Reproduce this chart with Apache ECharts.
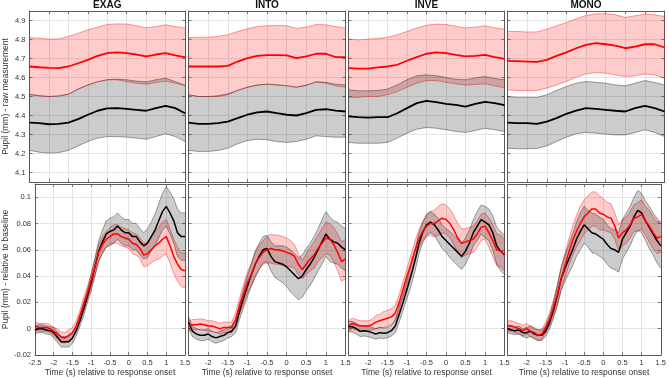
<!DOCTYPE html>
<html><head><meta charset="utf-8">
<script src="https://cdn.jsdelivr.net/npm/echarts@6/dist/echarts.min.js"></script>
<style>html,body{margin:0;padding:0;background:#fff}#c{width:669px;height:378px}</style>
</head><body><div id="c"></div>
<script>
// ---------- data ----------
const conditions = ['EXAG','INTO','INVE','MONO'];
const tCoarse = [-2.5,-2.25,-2,-1.75,-1.5,-1.25,-1,-0.75,-0.5,-0.25,0,0.25,0.5,0.75,1,1.25,1.5];
const tFine = [-2.5,-2.4,-2.3,-2.2,-2.1,-2.0,-1.9,-1.8,-1.7,-1.6,-1.5,-1.4,-1.3,-1.2,-1.1,-1.0,-0.9,-0.8,-0.7,-0.6,-0.5,-0.4,-0.3,-0.2,-0.1,0,0.1,0.2,0.3,0.4,0.5,0.6,0.7,0.8,0.9,1.0,1.1,1.2,1.3,1.4,1.5];
const xTicks = [-2.5,-2,-1.5,-1,-0.5,0,0.5,1,1.5];
const rawTicks = [4.1,4.2,4.3,4.4,4.5,4.6,4.7,4.8,4.9];
const relTicks = [-0.02,0,0.02,0.04,0.06,0.08,0.1];

// raw measurement (top row)
const rawRedMeanEXAG = [4.658,4.654,4.651,4.649,4.658,4.675,4.693,4.714,4.728,4.732,4.728,4.721,4.711,4.721,4.728,4.716,4.707];
const rawRedHiEXAG   = [4.810,4.807,4.802,4.803,4.816,4.833,4.851,4.865,4.879,4.882,4.881,4.872,4.861,4.868,4.877,4.868,4.860];
const rawRedLoEXAG   = [4.509,4.504,4.500,4.504,4.512,4.539,4.561,4.579,4.588,4.588,4.579,4.570,4.565,4.574,4.581,4.570,4.558];
const rawBlkMeanEXAG = [4.363,4.360,4.354,4.356,4.363,4.381,4.404,4.425,4.437,4.439,4.435,4.430,4.425,4.439,4.451,4.439,4.412];
const rawBlkHiEXAG   = [4.512,4.504,4.500,4.502,4.512,4.539,4.560,4.577,4.588,4.591,4.588,4.581,4.577,4.588,4.596,4.579,4.558];
const rawBlkLoEXAG   = [4.216,4.207,4.202,4.205,4.216,4.240,4.263,4.281,4.289,4.289,4.286,4.281,4.275,4.289,4.304,4.289,4.263];

const rawRedMeanINTO = [4.658,4.658,4.658,4.658,4.661,4.684,4.702,4.714,4.718,4.718,4.716,4.702,4.711,4.725,4.725,4.707,4.707];
const rawRedHiINTO   = [4.810,4.812,4.812,4.816,4.825,4.842,4.856,4.868,4.872,4.874,4.872,4.858,4.865,4.879,4.877,4.868,4.860];
const rawRedLoINTO   = [4.509,4.500,4.500,4.500,4.509,4.532,4.549,4.560,4.565,4.561,4.558,4.549,4.558,4.577,4.570,4.556,4.549];
const rawBlkMeanINTO = [4.363,4.356,4.356,4.360,4.368,4.386,4.404,4.416,4.421,4.412,4.404,4.400,4.412,4.430,4.433,4.426,4.421];
const rawBlkHiINTO   = [4.509,4.500,4.500,4.504,4.514,4.532,4.549,4.560,4.565,4.561,4.556,4.549,4.560,4.577,4.575,4.565,4.561];
const rawBlkLoINTO   = [4.216,4.211,4.211,4.216,4.228,4.251,4.268,4.275,4.272,4.263,4.258,4.263,4.275,4.293,4.289,4.286,4.286];

const rawRedMeanINVE = [4.649,4.647,4.647,4.653,4.658,4.667,4.688,4.707,4.725,4.732,4.728,4.719,4.711,4.714,4.719,4.707,4.698];
const rawRedHiINVE   = [4.802,4.798,4.802,4.805,4.812,4.825,4.842,4.860,4.875,4.881,4.879,4.870,4.861,4.865,4.872,4.861,4.854];
const rawRedLoINVE   = [4.496,4.496,4.500,4.500,4.509,4.526,4.549,4.570,4.584,4.584,4.575,4.567,4.560,4.563,4.567,4.556,4.546];
const rawBlkMeanINVE = [4.395,4.391,4.389,4.391,4.391,4.412,4.439,4.465,4.477,4.470,4.461,4.456,4.447,4.461,4.472,4.465,4.454];
const rawBlkHiINVE   = [4.535,4.530,4.530,4.532,4.539,4.561,4.588,4.609,4.614,4.609,4.600,4.591,4.588,4.598,4.605,4.595,4.588];
const rawBlkLoINVE   = [4.258,4.254,4.254,4.254,4.258,4.281,4.307,4.328,4.337,4.333,4.325,4.316,4.311,4.321,4.333,4.325,4.316];

const rawRedMeanMONO = [4.688,4.686,4.684,4.682,4.693,4.714,4.732,4.754,4.772,4.781,4.775,4.768,4.754,4.763,4.775,4.775,4.758];
const rawRedHiMONO   = [4.842,4.842,4.839,4.840,4.854,4.872,4.889,4.909,4.926,4.935,4.935,4.930,4.916,4.925,4.933,4.930,4.921];
const rawRedLoMONO   = [4.535,4.532,4.530,4.532,4.544,4.561,4.579,4.602,4.619,4.626,4.623,4.614,4.605,4.609,4.619,4.614,4.596];
const rawBlkMeanMONO = [4.363,4.360,4.360,4.356,4.368,4.386,4.409,4.426,4.439,4.435,4.430,4.425,4.421,4.439,4.451,4.439,4.421];
const rawBlkHiMONO   = [4.500,4.496,4.496,4.495,4.509,4.532,4.553,4.570,4.579,4.575,4.570,4.561,4.556,4.570,4.584,4.574,4.561];
const rawBlkLoMONO   = [4.228,4.225,4.225,4.226,4.240,4.263,4.286,4.304,4.311,4.307,4.302,4.298,4.298,4.311,4.325,4.311,4.289];

// relative to baseline (bottom row): mean and half-width of shaded error band
const relBlkMeanEXAG = [-0.001,0.000,0.000,-0.001,-0.0015,-0.003,-0.0065,-0.010,-0.010,-0.010,-0.007,-0.0015,0.006,0.015,0.025,0.035,0.047,0.059,0.066,0.072,0.074,0.075,0.078,0.075,0.073,0.073,0.070,0.070,0.066,0.063,0.065,0.070,0.075,0.082,0.089,0.093,0.088,0.082,0.073,0.070,0.070];
const relBlkErrEXAG  = [0.003,0.003,0.003,0.003,0.003,0.004,0.004,0.004,0.004,0.004,0.004,0.004,0.004,0.005,0.005,0.006,0.007,0.008,0.009,0.010,0.010,0.010,0.010,0.010,0.010,0.010,0.010,0.010,0.010,0.010,0.011,0.011,0.012,0.013,0.014,0.015,0.016,0.017,0.018,0.018,0.018];
const relRedMeanEXAG = [0.002,0.001,0.001,0.001,0.000,-0.002,-0.004,-0.0065,-0.007,-0.005,-0.003,0.002,0.010,0.019,0.027,0.037,0.047,0.058,0.064,0.068,0.070,0.072,0.072,0.070,0.069,0.068,0.065,0.064,0.061,0.056,0.057,0.060,0.063,0.065,0.068,0.070,0.063,0.055,0.049,0.045,0.044];
const relRedErrEXAG  = [0.003,0.003,0.003,0.003,0.003,0.003,0.004,0.004,0.004,0.004,0.004,0.004,0.004,0.005,0.005,0.005,0.006,0.006,0.006,0.006,0.007,0.007,0.007,0.007,0.007,0.007,0.008,0.008,0.008,0.009,0.009,0.010,0.011,0.012,0.013,0.013,0.013,0.013,0.013,0.013,0.013];

const relBlkMeanINTO = [0.005,-0.002,-0.004,-0.005,-0.005,-0.004,-0.006,-0.007,-0.006,-0.005,-0.003,-0.002,0.002,0.013,0.023,0.032,0.041,0.049,0.055,0.060,0.061,0.055,0.051,0.050,0.049,0.047,0.044,0.041,0.038,0.040,0.045,0.049,0.054,0.060,0.066,0.072,0.068,0.066,0.065,0.062,0.060];
const relBlkErrINTO  = [0.004,0.004,0.004,0.004,0.004,0.004,0.004,0.004,0.004,0.004,0.004,0.004,0.005,0.006,0.007,0.008,0.009,0.010,0.010,0.010,0.010,0.011,0.012,0.013,0.014,0.015,0.016,0.016,0.016,0.016,0.016,0.016,0.016,0.016,0.017,0.017,0.017,0.016,0.016,0.016,0.016];
const relRedMeanINTO = [0.002,0.003,0.003,0.0035,0.003,0.002,0.002,0.001,0.000,0.001,0.001,0.001,0.007,0.017,0.026,0.035,0.041,0.049,0.054,0.058,0.060,0.061,0.060,0.060,0.059,0.058,0.057,0.055,0.049,0.045,0.049,0.053,0.056,0.061,0.065,0.069,0.068,0.064,0.058,0.051,0.053];
const relRedErrINTO  = [0.004,0.004,0.004,0.004,0.004,0.004,0.004,0.004,0.004,0.004,0.004,0.004,0.005,0.006,0.007,0.008,0.008,0.009,0.009,0.009,0.010,0.011,0.011,0.011,0.011,0.011,0.010,0.009,0.008,0.007,0.008,0.009,0.010,0.010,0.011,0.012,0.012,0.013,0.014,0.015,0.015];

const relBlkMeanINVE = [0.0015,0.0015,0.000,-0.002,-0.0015,-0.002,-0.003,-0.004,-0.003,-0.0035,-0.003,-0.0015,0.002,0.011,0.020,0.030,0.040,0.051,0.064,0.073,0.079,0.081,0.079,0.075,0.070,0.067,0.064,0.061,0.058,0.055,0.059,0.065,0.073,0.078,0.083,0.081,0.079,0.073,0.063,0.059,0.056];
const relBlkErrINVE  = [0.004,0.004,0.004,0.004,0.004,0.004,0.004,0.004,0.004,0.004,0.004,0.004,0.005,0.006,0.006,0.007,0.008,0.008,0.008,0.008,0.008,0.008,0.008,0.009,0.009,0.009,0.010,0.010,0.010,0.010,0.010,0.010,0.010,0.011,0.011,0.012,0.012,0.013,0.014,0.015,0.015];
const relRedMeanINVE = [0.002,0.004,0.003,0.002,0.002,0.002,0.003,0.005,0.006,0.007,0.008,0.009,0.012,0.020,0.030,0.040,0.049,0.059,0.068,0.074,0.078,0.080,0.080,0.082,0.084,0.083,0.080,0.075,0.069,0.065,0.066,0.067,0.068,0.072,0.077,0.078,0.073,0.067,0.060,0.059,0.056];
const relRedErrINVE  = [0.004,0.004,0.004,0.004,0.004,0.004,0.004,0.005,0.005,0.006,0.006,0.006,0.006,0.006,0.006,0.006,0.007,0.007,0.007,0.007,0.008,0.009,0.010,0.011,0.011,0.011,0.011,0.011,0.011,0.011,0.010,0.010,0.010,0.010,0.010,0.010,0.011,0.012,0.012,0.012,0.012];

const relBlkMeanMONO = [0.000,-0.001,-0.0015,-0.001,-0.003,-0.003,-0.002,-0.004,-0.005,-0.005,-0.0015,0.005,0.014,0.025,0.038,0.046,0.053,0.060,0.068,0.074,0.079,0.076,0.073,0.072,0.070,0.068,0.064,0.061,0.060,0.058,0.068,0.073,0.078,0.085,0.090,0.088,0.082,0.077,0.072,0.067,0.063];
const relBlkErrMONO  = [0.003,0.003,0.003,0.003,0.003,0.004,0.004,0.004,0.004,0.004,0.004,0.005,0.006,0.008,0.009,0.010,0.011,0.012,0.013,0.014,0.014,0.014,0.015,0.015,0.015,0.015,0.015,0.015,0.015,0.015,0.015,0.015,0.015,0.015,0.015,0.015,0.015,0.016,0.016,0.017,0.017];
const relRedMeanMONO = [0.002,0.002,0.001,0.000,-0.0015,0.000,-0.002,-0.003,-0.005,-0.004,0.001,0.007,0.016,0.026,0.038,0.048,0.058,0.067,0.074,0.080,0.085,0.088,0.091,0.091,0.088,0.087,0.085,0.084,0.078,0.069,0.073,0.075,0.079,0.084,0.085,0.087,0.082,0.078,0.073,0.069,0.070];
const relRedErrMONO  = [0.004,0.004,0.004,0.004,0.004,0.004,0.004,0.004,0.004,0.004,0.004,0.005,0.006,0.007,0.008,0.009,0.010,0.011,0.012,0.013,0.013,0.013,0.013,0.013,0.013,0.012,0.011,0.011,0.010,0.010,0.010,0.010,0.010,0.010,0.011,0.011,0.011,0.012,0.012,0.012,0.012];

// ---------- lookup tables built from the arrays ----------
const rawData = {
  EXAG:{rm:rawRedMeanEXAG,rh:rawRedHiEXAG,rl:rawRedLoEXAG,bm:rawBlkMeanEXAG,bh:rawBlkHiEXAG,bl:rawBlkLoEXAG},
  INTO:{rm:rawRedMeanINTO,rh:rawRedHiINTO,rl:rawRedLoINTO,bm:rawBlkMeanINTO,bh:rawBlkHiINTO,bl:rawBlkLoINTO},
  INVE:{rm:rawRedMeanINVE,rh:rawRedHiINVE,rl:rawRedLoINVE,bm:rawBlkMeanINVE,bh:rawBlkHiINVE,bl:rawBlkLoINVE},
  MONO:{rm:rawRedMeanMONO,rh:rawRedHiMONO,rl:rawRedLoMONO,bm:rawBlkMeanMONO,bh:rawBlkHiMONO,bl:rawBlkLoMONO}
};
const relData = {
  EXAG:{rm:relRedMeanEXAG,re:relRedErrEXAG,bm:relBlkMeanEXAG,be:relBlkErrEXAG},
  INTO:{rm:relRedMeanINTO,re:relRedErrINTO,bm:relBlkMeanINTO,be:relBlkErrINTO},
  INVE:{rm:relRedMeanINVE,re:relRedErrINVE,bm:relBlkMeanINVE,be:relBlkErrINVE},
  MONO:{rm:relRedMeanMONO,re:relRedErrMONO,bm:relBlkMeanMONO,be:relBlkErrMONO}
};

// ---------- layout / style ----------
const FONT = '"Liberation Sans", Arial, Helvetica, sans-serif';
const colLeft = [29.5, 188.5, 348.5, 507.5];
const colWidth = [155.5, 157, 156, 157];
const rowTop = [11, 184];
const rowHeight = [171, 172];
const BORDER = '#5a5a5a';
const GRIDC = '#e4e4e4';
const RED_FILL = 'rgba(255,0,0,0.2)', RED_EDGE = 'rgba(255,40,40,0.6)';
const BLK_FILL = 'rgba(0,0,0,0.2)', BLK_EDGE = 'rgba(0,0,0,0.45)';

const near = (a,b)=>Math.abs(a-b)<1e-9;
const fmtNum = v => String(Math.round(v*1000)/1000);

const grids = [], xAxes = [], yAxes = [], series = [], graphics = [];

// shaded band: polygon between lo and hi, positioned via the axis scales (api.coord)
function band(gi, xs, lo, hi, edge, fill){
  series.push({type:'custom', xAxisIndex:2*gi, yAxisIndex:2*gi, silent:true, animation:false, clip:true,
    data: xs.map((x,k)=>[x, lo[k], hi[k]]),
    encode:{x:0, y:[1,2]},
    renderItem: function(params, api){
      if (params.dataIndex !== 0) return null;
      const up = xs.map((x,k)=>api.coord([x, hi[k]]));
      const dn = xs.map((x,k)=>api.coord([x, lo[k]]));
      const poly = up.concat(dn.slice().reverse());
      return {type:'group', children:[
        {type:'polygon', shape:{points:poly}, style:{fill:fill, stroke:null}},
        {type:'polyline', shape:{points:up}, style:{fill:null, stroke:edge, lineWidth:0.8}},
        {type:'polyline', shape:{points:dn}, style:{fill:null, stroke:edge, lineWidth:0.8}}
      ]};
    }
  });
}
function meanLine(gi, xs, m, color, w){
  series.push({type:'line', xAxisIndex:2*gi, yAxisIndex:2*gi, symbol:'none', silent:true, animation:false,
    data: xs.map((x,k)=>[x, m[k]]), lineStyle:{color:color, width:w}});
}

for (let r=0; r<2; r++){
  for (let c=0; c<4; c++){
    const gi = r*4+c;
    const cond = conditions[c];
    grids.push({left:colLeft[c], top:rowTop[r], width:colWidth[c], height:rowHeight[r], show:false, containLabel:false});
    const isBottom = r===1;
    xAxes.push({type:'value', gridIndex:gi, position:'bottom', min:-2.5, max:1.5, interval:0.5,
      axisLine:{show:true, onZero:false, lineStyle:{color:BORDER, width:1}},
      axisTick:{show:true, inside:true, length:3, lineStyle:{color:BORDER, width:0.8}},
      splitLine:{show:true, lineStyle:{color:GRIDC, width:1}},
      axisLabel:{show:isBottom, fontSize:7.5, color:'#333', fontFamily:FONT, margin:4,
        showMinLabel:true, showMaxLabel:true,
        formatter: v => (c>0 && near(v,-2.5)) ? '' : (xTicks.some(t=>near(t,v)) ? fmtNum(v) : '')},
      name: isBottom ? 'Time (s) relative to response onset' : '',
      nameLocation:'middle', nameGap:13,
      nameTextStyle:{fontSize:8.5, color:'#333', fontFamily:FONT}
    });
    xAxes.push({type:'value', gridIndex:gi, position:'top', min:-2.5, max:1.5, interval:0.5,
      axisLine:{show:true, onZero:false, lineStyle:{color:BORDER, width:1}},
      axisTick:{show:true, inside:true, length:3, lineStyle:{color:BORDER, width:0.8}},
      splitLine:{show:false}, axisLabel:{show:false}});
    const yBase = isBottom
      ? {min:-0.02, max:0.11, interval:0.02}
      : {min:4.05, max:4.95, splitNumber:9, minInterval:0.1, maxInterval:0.1};
    const ticks = isBottom ? relTicks : rawTicks;
    yAxes.push(Object.assign({type:'value', gridIndex:gi, position:'left',
      axisLine:{show:true, onZero:false, lineStyle:{color:BORDER, width:1}},
      axisTick:{show:true, inside:true, length:3, lineStyle:{color:BORDER, width:0.8}},
      splitLine:{show:true, lineStyle:{color:GRIDC, width:1}},
      axisLabel:{show:c===0, fontSize:7.5, color:'#333', fontFamily:FONT, margin:4,
        formatter: v => ticks.some(t=>near(t,v)) ? fmtNum(v) : ''},
      name: c===0 ? (isBottom ? 'Pupil (mm) - relative to baseline' : 'Pupil (mm) - raw measurement') : '',
      nameLocation:'middle', nameGap:19, nameRotate:90,
      nameTextStyle:{fontSize:8.5, color:'#333', fontFamily:FONT}
    }, yBase));
    yAxes.push(Object.assign({type:'value', gridIndex:gi, position:'right',
      axisLine:{show:true, onZero:false, lineStyle:{color:BORDER, width:1}},
      axisTick:{show:true, inside:true, length:3, lineStyle:{color:BORDER, width:0.8}},
      splitLine:{show:false}, axisLabel:{show:false}}, yBase));

    if (!isBottom){
      const d = rawData[cond];
      band(gi, tCoarse, d.rl, d.rh, RED_EDGE, RED_FILL);
      band(gi, tCoarse, d.bl, d.bh, BLK_EDGE, BLK_FILL);
      meanLine(gi, tCoarse, d.bm, '#000000', 1.8);
      meanLine(gi, tCoarse, d.rm, '#ff0000', 1.8);
    } else {
      const d = relData[cond];
      const rl = d.rm.map((m,k)=>m-d.re[k]), rh = d.rm.map((m,k)=>m+d.re[k]);
      const bl = d.bm.map((m,k)=>m-d.be[k]), bh = d.bm.map((m,k)=>m+d.be[k]);
      band(gi, tFine, rl, rh, RED_EDGE, RED_FILL);
      band(gi, tFine, bl, bh, BLK_EDGE, BLK_FILL);
      meanLine(gi, tFine, d.bm, '#000000', 1.5);
      meanLine(gi, tFine, d.rm, '#ff0000', 1.5);
    }
  }
}
for (let c=0;c<4;c++){
  graphics.push({type:'text', x: colLeft[c]+colWidth[c]/2, y: 0.5,
    style:{text: conditions[c], align:'center', verticalAlign:'top', fontSize:10, fontWeight:'bold',
      fontFamily:FONT, fill:'#111'}});
}

const chart = echarts.init(document.getElementById('c'), null, {renderer:'canvas'});
chart.setOption({
  animation:false,
  backgroundColor:'#ffffff',
  grid:grids, xAxis:xAxes, yAxis:yAxes, series:series, graphic:graphics
});
</script>
</body></html>
